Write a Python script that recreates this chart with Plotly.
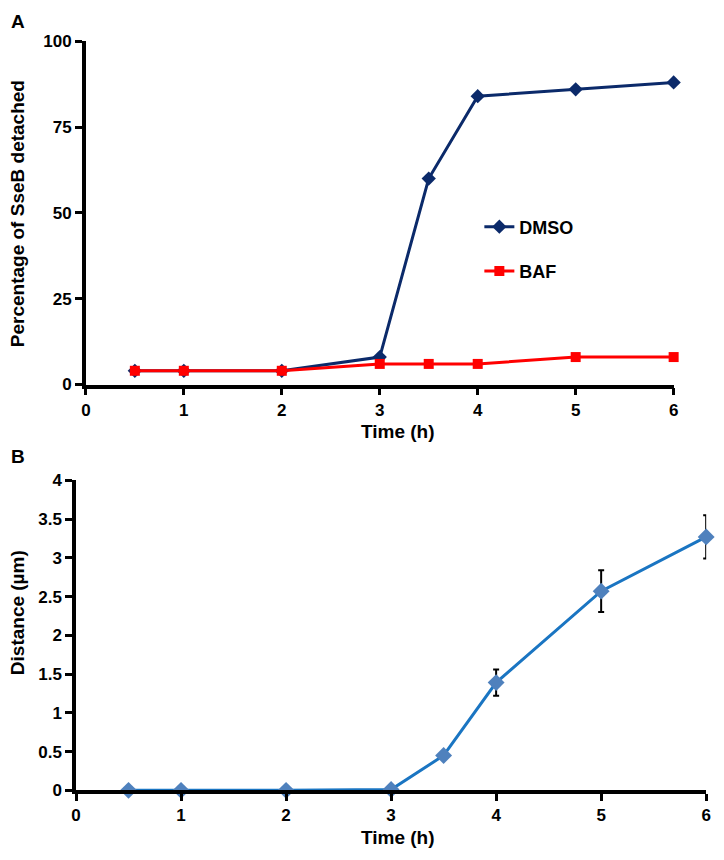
import plotly.graph_objects as go

# Panel A: percentage of SseB detached
time_a = [0.5, 1, 2, 3, 3.5, 4, 5, 6]
dmso = [4, 4, 4, 8, 60, 84, 86, 88]
baf = [4, 4, 4, 6, 6, 6, 8, 8]

# Panel B: distance (um) with error bars
time_b = [0.5, 1, 2, 3, 3.5, 4, 5, 6]
distance = [0, 0, 0, 0.01, 0.45, 1.39, 2.57, 3.27]
distance_err = [0, 0, 0, 0, 0.02, 0.17, 0.27, 0.28]

W, H = 724, 860
FONT = 'Liberation Sans, Arial, sans-serif'


def px(x):
    return x / W


def py(y):
    return 1 - y / H


fig = go.Figure()

fig.add_trace(go.Scatter(
    x=time_a, y=dmso, name='DMSO', mode='lines+markers', legendgroup='dmso',
    line=dict(color='#0B2A6A', width=3),
    marker=dict(symbol='diamond', size=11, color='#0B2A6A'),
    cliponaxis=False, xaxis='x', yaxis='y',
))
fig.add_trace(go.Scatter(
    x=time_a, y=baf, name='BAF', mode='lines+markers', legendgroup='baf',
    line=dict(color='#FF0000', width=3),
    marker=dict(symbol='square', size=10, color='#FF0000'),
    cliponaxis=False, xaxis='x', yaxis='y',
))
fig.add_trace(go.Scatter(
    x=time_b, y=distance, mode='lines+markers', showlegend=False,
    line=dict(color='#1A75C2', width=3),
    marker=dict(symbol='diamond', size=13, color='#4F81BD'),
    error_y=dict(type='data', array=distance_err, color='black', thickness=2, width=3),
    cliponaxis=False, xaxis='x2', yaxis='y2',
))

tickfont = dict(family=FONT, size=17, color='black', weight='bold')
axis_common = dict(
    showline=True, linecolor='black', linewidth=3.5,
    ticks='outside', ticklen=7, tickwidth=3, tickcolor='black',
    showgrid=False, zeroline=False, tickfont=tickfont,
)

fig.update_layout(
    width=W, height=H,
    margin=dict(l=0, r=0, t=0, b=0),
    paper_bgcolor='white', plot_bgcolor='white',
    xaxis=dict(domain=[px(82), px(678)], anchor='y', range=[0, 6],
               tickvals=[0, 1, 2, 3, 4, 5, 6], **axis_common),
    yaxis=dict(domain=[py(384), py(33)], anchor='x', range=[0, 100],
               tickvals=[0, 25, 50, 75, 100], **axis_common),
    xaxis2=dict(domain=[px(72), px(711)], anchor='y2', range=[0, 6],
                tickvals=[0, 1, 2, 3, 4, 5, 6], **axis_common),
    yaxis2=dict(domain=[py(799), py(482)], anchor='x2', range=[0, 4],
                tickvals=[0, 0.5, 1, 1.5, 2, 2.5, 3, 3.5, 4], **axis_common),
    legend=dict(x=px(481), y=py(204), xanchor='left', yanchor='top',
                font=dict(family=FONT, size=18, color='black', weight='bold'),
                bgcolor='rgba(0,0,0,0)', tracegroupgap=18),
    showlegend=True,
)

title_font = dict(family=FONT, size=19, color='black', weight='bold')
label_font = dict(family=FONT, size=19, color='black', weight='bold')
annotations = [
    dict(text='A', x=px(4), y=py(13), xanchor='left', yanchor='middle', font=label_font),
    dict(text='B', x=px(4), y=py(458), xanchor='left', yanchor='middle', font=label_font),
    dict(text='Time (h)', x=px(398), y=py(432), xanchor='center', yanchor='middle', font=title_font),
    dict(text='Time (h)', x=px(398), y=py(847), xanchor='center', yanchor='middle', font=title_font),
    dict(text='Percentage of SseB detached', x=px(13), y=py(209), textangle=-90,
         xanchor='center', yanchor='middle', font=title_font),
    dict(text='Distance (µm)', x=px(13), y=py(617), textangle=-90,
         xanchor='center', yanchor='middle', font=title_font),
]
for a in annotations:
    a.update(xref='paper', yref='paper', showarrow=False)
fig.update_layout(annotations=annotations)

# the default page has an 8px body margin; drop it so the figure fills the window
fig.write_html('out.html', config={'displayModeBar': False},
               post_script="document.body.style.margin = '0';")
